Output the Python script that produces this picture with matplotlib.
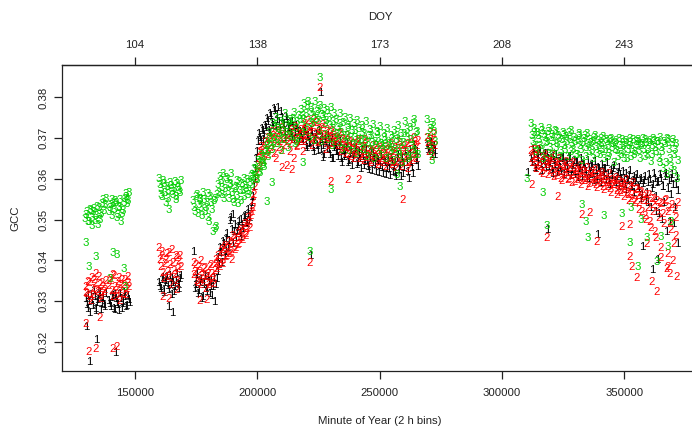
import numpy as np
import matplotlib
matplotlib.use("Agg")
import matplotlib.pyplot as plt

# ---------------- data ----------------
BIN_STEP = 720      # minutes between plotted bins of one pass
PASS2_OFFSET = 360  # second pass of bins, offset by 6 h
seg_starts = [129600, 139200, 159600, 173760, 269280, 311760]

# ---- pass 1 ----
gcc1_a = [0.3305, 0.3280, 0.3298, 0.3315, 0.3288, 0.3310, 0.3275, 0.3302, 0.3320, 0.3292, 0.3308, 0.3285]
gcc2_a = [0.3335, 0.3318, 0.3345, 0.3300, 0.3330, 0.3352, 0.3368, 0.3322, 0.3340, 0.3312, 0.3336, 0.3328]
gcc3_a = [0.3502, 0.3518, 0.3495, 0.3521, 0.3484, 0.3527, 0.3510, 0.3486, 0.3530, 0.3515, 0.3548, 0.3535]

gcc1_b = [0.3300, 0.3285, 0.3312, 0.3278, 0.3305, 0.3290, 0.3318, 0.3282, 0.3298, 0.3310, 0.3288, 0.3302]
gcc2_b = [0.3338, 0.3355, 0.3310, 0.3362, 0.3325, 0.3348, 0.3300, 0.3340, 0.3318, 0.3352, 0.3330, 0.3345]
gcc3_b = [0.3520, 0.3535, 0.3548, 0.3525, 0.3540, 0.3512, 0.3530, 0.3495, 0.3522, 0.3550, 0.3562, 0.3545]

gcc1_c = [0.3345, 0.3330, 0.3358, 0.3320, 0.3350, 0.3338, 0.3362, 0.3315, 0.3345, 0.3335, 0.3368, 0.3340, 0.3355]
gcc2_c = [0.3430, 0.3385, 0.3410, 0.3355, 0.3400, 0.3372, 0.3418, 0.3340, 0.3395, 0.3365, 0.3405, 0.3380, 0.3412]
gcc3_c = [0.3600, 0.3575, 0.3555, 0.3588, 0.3540, 0.3570, 0.3525, 0.3582, 0.3560, 0.3592, 0.3548, 0.3578, 0.3565]

gcc1_d = [0.3420, 0.3340, 0.3365, 0.3325, 0.3352, 0.3310, 0.3345, 0.3330, 0.3360, 0.3318, 0.3350, 0.3335, 0.3298, 0.3355,
          0.3405, 0.3430, 0.3395, 0.3440, 0.3420, 0.3465, 0.3448, 0.3505, 0.3512, 0.3470, 0.3455, 0.3482, 0.3465, 0.3500,
          0.3478, 0.3510, 0.3490, 0.3525, 0.3505, 0.3540,
          0.3580, 0.3625, 0.3665, 0.3710, 0.3690, 0.3718, 0.3705,
          0.3725, 0.3740, 0.3712, 0.3755, 0.3730, 0.3768, 0.3745, 0.3775, 0.3720, 0.3750, 0.3735, 0.3700, 0.3745, 0.3725,
          0.3710, 0.3740, 0.3695, 0.3730, 0.3715, 0.3705,
          0.3710, 0.3690, 0.3720, 0.3675, 0.3705, 0.3688, 0.3712, 0.3665, 0.3700, 0.3680, 0.3718, 0.3672, 0.3695, 0.3658,
          0.3690, 0.3705, 0.3670, 0.3688, 0.3650, 0.3682,
          0.3680, 0.3655, 0.3690, 0.3640, 0.3672, 0.3660, 0.3685, 0.3645, 0.3668, 0.3632,
          0.3660, 0.3675, 0.3640, 0.3665, 0.3625, 0.3655, 0.3642, 0.3670, 0.3630, 0.3650,
          0.3620, 0.3662, 0.3635, 0.3648, 0.3615, 0.3655, 0.3628, 0.3645, 0.3610, 0.3640,
          0.3625, 0.3652, 0.3618, 0.3638, 0.3605, 0.3660, 0.3630, 0.3648, 0.3612, 0.3665,
          0.3640, 0.3600, 0.3672, 0.3628, 0.3680, 0.3645, 0.3665]
gcc2_d = [0.3395, 0.3372, 0.3350, 0.3385, 0.3340, 0.3362, 0.3378, 0.3330, 0.3368, 0.3345, 0.3390, 0.3355, 0.3375, 0.3400,
          0.3410, 0.3385, 0.3425, 0.3400, 0.3435, 0.3412, 0.3445, 0.3420, 0.3402, 0.3455, 0.3430, 0.3465, 0.3440, 0.3475,
          0.3450, 0.3490, 0.3465, 0.3505, 0.3480, 0.3520,
          0.3545, 0.3580, 0.3615, 0.3650, 0.3630, 0.3668, 0.3645,
          0.3680, 0.3660, 0.3695, 0.3672, 0.3705, 0.3685, 0.3650, 0.3710, 0.3690, 0.3668, 0.3715, 0.3695, 0.3632, 0.3705,
          0.3685, 0.3720, 0.3650, 0.3700, 0.3678, 0.3712,
          0.3720, 0.3695, 0.3735, 0.3705, 0.3742, 0.3712, 0.3680, 0.3730, 0.3700, 0.3738, 0.3715, 0.3690, 0.3725, 0.3705,
          0.3670, 0.3720, 0.3695, 0.3712, 0.3685, 0.3705,
          0.3700, 0.3680, 0.3712, 0.3665, 0.3695, 0.3675, 0.3705, 0.3660, 0.3690, 0.3672,
          0.3650, 0.3685, 0.3668, 0.3695, 0.3655, 0.3678, 0.3645, 0.3688, 0.3660, 0.3672,
          0.3640, 0.3680, 0.3655, 0.3668, 0.3635, 0.3675, 0.3650, 0.3662, 0.3630, 0.3670,
          0.3648, 0.3685, 0.3640, 0.3665, 0.3628, 0.3690, 0.3652, 0.3675, 0.3638, 0.3682,
          0.3660, 0.3625, 0.3695, 0.3645, 0.3700, 0.3658, 0.3680]
gcc3_d = [0.3545, 0.3520, 0.3560, 0.3535, 0.3552, 0.3510, 0.3548, 0.3530, 0.3562, 0.3495, 0.3540, 0.3470, 0.3550, 0.3482,
          0.3585, 0.3605, 0.3560, 0.3612, 0.3575, 0.3598, 0.3550, 0.3588, 0.3565, 0.3540, 0.3580, 0.3558, 0.3592, 0.3545,
          0.3570, 0.3600, 0.3575, 0.3560, 0.3590, 0.3610,
          0.3605, 0.3622, 0.3598, 0.3640, 0.3615, 0.3655, 0.3630,
          0.3665, 0.3690, 0.3712, 0.3680, 0.3735, 0.3700, 0.3750, 0.3722, 0.3695, 0.3740, 0.3715, 0.3760, 0.3730, 0.3705,
          0.3745, 0.3725, 0.3762, 0.3690, 0.3740, 0.3755,
          0.3770, 0.3745, 0.3785, 0.3760, 0.3790, 0.3738, 0.3775, 0.3755, 0.3788, 0.3765, 0.3742, 0.3780, 0.3758, 0.3772,
          0.3735, 0.3768, 0.3750, 0.3775, 0.3740, 0.3760,
          0.3745, 0.3725, 0.3760, 0.3712, 0.3738, 0.3750, 0.3705, 0.3730, 0.3748, 0.3718,
          0.3735, 0.3700, 0.3742, 0.3722, 0.3695, 0.3730, 0.3710, 0.3740, 0.3688, 0.3720,
          0.3705, 0.3732, 0.3690, 0.3715, 0.3698, 0.3728, 0.3680, 0.3710, 0.3692, 0.3722,
          0.3685, 0.3705, 0.3675, 0.3718, 0.3695, 0.3730, 0.3665, 0.3710, 0.3688, 0.3740,
          0.3700, 0.3650, 0.3725, 0.3680, 0.3745, 0.3660, 0.3715]

gcc1_e = [0.3680, 0.3665, 0.3688, 0.3670, 0.3660]
gcc2_e = [0.3700, 0.3665, 0.3690, 0.3655, 0.3710]
gcc3_e = [0.3745, 0.3680, 0.3730, 0.3645, 0.3715]

gcc1_f = [0.3650, 0.3672, 0.3628, 0.3660, 0.3640, 0.3665, 0.3620, 0.3655, 0.3635, 0.3662,
          0.3630, 0.3650, 0.3612, 0.3645, 0.3660, 0.3625, 0.3648, 0.3618, 0.3652, 0.3630,
          0.3640, 0.3615, 0.3655, 0.3622, 0.3645, 0.3610, 0.3638, 0.3625, 0.3648, 0.3605,
          0.3635, 0.3618, 0.3645, 0.3600, 0.3630, 0.3612, 0.3642, 0.3598, 0.3628, 0.3615,
          0.3635, 0.3605, 0.3625, 0.3640, 0.3595, 0.3620, 0.3608, 0.3632, 0.3590, 0.3615,
          0.3628, 0.3600, 0.3618, 0.3585, 0.3612, 0.3595, 0.3620, 0.3580, 0.3605, 0.3590,
          0.3610, 0.3575, 0.3600, 0.3560, 0.3595, 0.3545, 0.3590, 0.3610, 0.3530, 0.3585,
          0.3600, 0.3520, 0.3592, 0.3610, 0.3500, 0.3580, 0.3605, 0.3470, 0.3595, 0.3560,
          0.3610, 0.3490, 0.3585, 0.3440]
gcc2_f = [0.3668, 0.3640, 0.3655, 0.3625, 0.3672, 0.3630, 0.3650, 0.3612, 0.3660, 0.3635,
          0.3645, 0.3620, 0.3658, 0.3605, 0.3640, 0.3625, 0.3648, 0.3600, 0.3635, 0.3615,
          0.3642, 0.3598, 0.3628, 0.3610, 0.3638, 0.3592, 0.3620, 0.3605, 0.3632, 0.3595,
          0.3618, 0.3600, 0.3628, 0.3588, 0.3612, 0.3598, 0.3622, 0.3585, 0.3608, 0.3595,
          0.3615, 0.3580, 0.3605, 0.3590, 0.3612, 0.3575, 0.3598, 0.3585, 0.3602, 0.3570,
          0.3595, 0.3565, 0.3588, 0.3575, 0.3598, 0.3560, 0.3582, 0.3550, 0.3590, 0.3545,
          0.3575, 0.3540, 0.3565, 0.3520, 0.3555, 0.3500, 0.3545, 0.3560, 0.3480, 0.3535,
          0.3550, 0.3455, 0.3528, 0.3540, 0.3405, 0.3515, 0.3545, 0.3380, 0.3520, 0.3490,
          0.3535, 0.3440, 0.3505, 0.3360]
gcc3_f = [0.3735, 0.3690, 0.3712, 0.3665, 0.3705, 0.3682, 0.3718, 0.3650, 0.3700, 0.3690,
          0.3722, 0.3675, 0.3708, 0.3660, 0.3715, 0.3685, 0.3698, 0.3668, 0.3712, 0.3680,
          0.3702, 0.3655, 0.3695, 0.3718, 0.3672, 0.3690, 0.3660, 0.3705, 0.3680, 0.3645,
          0.3698, 0.3675, 0.3710, 0.3665, 0.3688, 0.3650, 0.3700, 0.3678, 0.3692, 0.3660,
          0.3685, 0.3702, 0.3670, 0.3690, 0.3655, 0.3695, 0.3675, 0.3640, 0.3688, 0.3668,
          0.3698, 0.3660, 0.3682, 0.3648, 0.3692, 0.3670, 0.3688, 0.3655, 0.3695, 0.3665,
          0.3680, 0.3690, 0.3650, 0.3685, 0.3672, 0.3695, 0.3660, 0.3688, 0.3642, 0.3680,
          0.3692, 0.3665, 0.3690, 0.3640, 0.3675, 0.3625, 0.3685, 0.3610, 0.3695, 0.3650,
          0.3688, 0.3620, 0.3672, 0.3600]

# ---- pass 2 (bins offset by PASS2_OFFSET) ----
gcc1_a2 = [0.3290, 0.3312, 0.3272, 0.3300, 0.3325, 0.3282, 0.3296, 0.3315, 0.3278, 0.3305, 0.3290, 0.3318]
gcc2_a2 = [0.3320, 0.3348, 0.3310, 0.3358, 0.3315, 0.3342, 0.3328, 0.3360, 0.3305, 0.3345, 0.3322, 0.3350]
gcc3_a2 = [0.3512, 0.3495, 0.3525, 0.3505, 0.3520, 0.3498, 0.3532, 0.3512, 0.3500, 0.3538, 0.3522, 0.3552]

gcc1_b2 = [0.3292, 0.3308, 0.3280, 0.3315, 0.3295, 0.3275, 0.3305, 0.3292, 0.3320, 0.3285, 0.3312, 0.3295]
gcc2_b2 = [0.3350, 0.3325, 0.3365, 0.3335, 0.3310, 0.3358, 0.3328, 0.3352, 0.3340, 0.3315, 0.3360, 0.3335]
gcc3_b2 = [0.3528, 0.3510, 0.3538, 0.3545, 0.3505, 0.3532, 0.3548, 0.3515, 0.3540, 0.3555, 0.3538, 0.3565]

gcc1_c2 = [0.3335, 0.3352, 0.3325, 0.3345, 0.3360, 0.3328, 0.3340, 0.3355, 0.3322, 0.3350, 0.3342, 0.3330, 0.3362]
gcc2_c2 = [0.3400, 0.3420, 0.3370, 0.3392, 0.3415, 0.3360, 0.3388, 0.3425, 0.3375, 0.3410, 0.3350, 0.3398, 0.3385]
gcc3_c2 = [0.3585, 0.3560, 0.3595, 0.3565, 0.3580, 0.3550, 0.3590, 0.3568, 0.3575, 0.3555, 0.3588, 0.3570, 0.3595]

gcc1_d2 = [0.3330, 0.3355, 0.3318, 0.3345, 0.3305, 0.3340, 0.3362, 0.3322, 0.3348, 0.3335, 0.3312, 0.3358, 0.3340, 0.3372,
           0.3390, 0.3418, 0.3445, 0.3410, 0.3452, 0.3430, 0.3498, 0.3475, 0.3440, 0.3488, 0.3470, 0.3495, 0.3458, 0.3485,
           0.3505, 0.3492, 0.3515, 0.3498, 0.3530, 0.3555,
           0.3600, 0.3648, 0.3690, 0.3700, 0.3722, 0.3695, 0.3730,
           0.3748, 0.3718, 0.3760, 0.3738, 0.3772, 0.3728, 0.3758, 0.3740, 0.3765, 0.3732, 0.3715, 0.3752, 0.3722, 0.3738,
           0.3700, 0.3728, 0.3712, 0.3722, 0.3690, 0.3715,
           0.3695, 0.3715, 0.3680, 0.3702, 0.3685, 0.3718, 0.3675, 0.3692, 0.3708, 0.3668, 0.3690, 0.3702, 0.3680, 0.3695,
           0.3672, 0.3685, 0.3660, 0.3698, 0.3675, 0.3665,
           0.3665, 0.3678, 0.3650, 0.3668, 0.3655, 0.3675, 0.3638, 0.3662, 0.3680, 0.3648,
           0.3670, 0.3635, 0.3658, 0.3648, 0.3672, 0.3632, 0.3660, 0.3645, 0.3622, 0.3665,
           0.3640, 0.3652, 0.3618, 0.3645, 0.3632, 0.3660, 0.3612, 0.3638, 0.3625, 0.3650,
           0.3608, 0.3642, 0.3630, 0.3615, 0.3648, 0.3622, 0.3605, 0.3640, 0.3628, 0.3655,
           0.3618, 0.3660, 0.3638, 0.3612, 0.3670, 0.3650, 0.3630]
gcc2_d2 = [0.3365, 0.3388, 0.3345, 0.3372, 0.3398, 0.3352, 0.3382, 0.3360, 0.3340, 0.3385, 0.3368, 0.3342, 0.3392, 0.3378,
           0.3395, 0.3420, 0.3392, 0.3430, 0.3408, 0.3428, 0.3415, 0.3440, 0.3460, 0.3425, 0.3448, 0.3438, 0.3470, 0.3455,
           0.3482, 0.3460, 0.3478, 0.3495, 0.3510, 0.3530,
           0.3560, 0.3598, 0.3632, 0.3665, 0.3678, 0.3655, 0.3690,
           0.3668, 0.3700, 0.3682, 0.3715, 0.3662, 0.3695, 0.3718, 0.3675, 0.3700, 0.3725, 0.3680, 0.3705, 0.3690, 0.3665,
           0.3712, 0.3695, 0.3728, 0.3682, 0.3708, 0.3690,
           0.3708, 0.3730, 0.3690, 0.3718, 0.3700, 0.3725, 0.3695, 0.3745, 0.3710, 0.3688, 0.3722, 0.3702, 0.3732, 0.3692,
           0.3715, 0.3700, 0.3682, 0.3718, 0.3698, 0.3690,
           0.3690, 0.3710, 0.3672, 0.3698, 0.3682, 0.3662, 0.3692, 0.3678, 0.3655, 0.3685,
           0.3670, 0.3660, 0.3690, 0.3648, 0.3675, 0.3665, 0.3695, 0.3652, 0.3670, 0.3645,
           0.3665, 0.3658, 0.3680, 0.3642, 0.3660, 0.3672, 0.3638, 0.3658, 0.3678, 0.3645,
           0.3668, 0.3635, 0.3662, 0.3675, 0.3642, 0.3660, 0.3680, 0.3630, 0.3668, 0.3650,
           0.3685, 0.3640, 0.3672, 0.3662, 0.3690, 0.3648, 0.3692]
gcc3_d2 = [0.3528, 0.3555, 0.3515, 0.3548, 0.3530, 0.3565, 0.3520, 0.3542, 0.3505, 0.3555, 0.3525, 0.3545, 0.3478, 0.3560,
           0.3565, 0.3595, 0.3578, 0.3550, 0.3602, 0.3568, 0.3585, 0.3612, 0.3548, 0.3575, 0.3595, 0.3538, 0.3570, 0.3588,
           0.3555, 0.3582, 0.3598, 0.3568, 0.3605, 0.3585,
           0.3625, 0.3600, 0.3645, 0.3618, 0.3660, 0.3638, 0.3672,
           0.3680, 0.3655, 0.3700, 0.3672, 0.3690, 0.3728, 0.3685, 0.3710, 0.3668, 0.3735, 0.3695, 0.3712, 0.3675, 0.3740,
           0.3702, 0.3748, 0.3685, 0.3722, 0.3698, 0.3745,
           0.3712, 0.3755, 0.3725, 0.3778, 0.3700, 0.3762, 0.3735, 0.3692, 0.3748, 0.3770, 0.3715, 0.3690, 0.3752, 0.3708,
           0.3742, 0.3695, 0.3730, 0.3680, 0.3722, 0.3700,
           0.3710, 0.3688, 0.3735, 0.3672, 0.3705, 0.3685, 0.3725, 0.3668, 0.3700, 0.3680,
           0.3718, 0.3662, 0.3695, 0.3675, 0.3712, 0.3670, 0.3690, 0.3655, 0.3705, 0.3668,
           0.3688, 0.3650, 0.3680, 0.3712, 0.3660, 0.3685, 0.3670, 0.3700, 0.3648, 0.3682,
           0.3665, 0.3698, 0.3645, 0.3672, 0.3705, 0.3658, 0.3688, 0.3640, 0.3710, 0.3665,
           0.3720, 0.3655, 0.3695, 0.3735, 0.3668, 0.3712, 0.3660]

gcc1_e2 = [0.3672, 0.3690, 0.3658, 0.3682, 0.3668]
gcc2_e2 = [0.3688, 0.3712, 0.3675, 0.3698, 0.3680]
gcc3_e2 = [0.3700, 0.3722, 0.3665, 0.3738, 0.3690]

gcc1_f2 = [0.3640, 0.3660, 0.3625, 0.3652, 0.3670, 0.3635, 0.3645, 0.3662, 0.3628, 0.3650,
           0.3640, 0.3622, 0.3655, 0.3635, 0.3615, 0.3642, 0.3628, 0.3650, 0.3610, 0.3638,
           0.3625, 0.3648, 0.3608, 0.3632, 0.3618, 0.3640, 0.3602, 0.3630, 0.3612, 0.3635,
           0.3622, 0.3600, 0.3628, 0.3610, 0.3635, 0.3595, 0.3620, 0.3605, 0.3625, 0.3590,
           0.3615, 0.3625, 0.3598, 0.3612, 0.3585, 0.3610, 0.3625, 0.3595, 0.3605, 0.3580,
           0.3610, 0.3588, 0.3600, 0.3572, 0.3598, 0.3608, 0.3582, 0.3595, 0.3565, 0.3600,
           0.3580, 0.3595, 0.3550, 0.3588, 0.3605, 0.3565, 0.3540, 0.3598, 0.3575, 0.3612,
           0.3555, 0.3590, 0.3515, 0.3600, 0.3580, 0.3540, 0.3612, 0.3575, 0.3495, 0.3600,
           0.3585, 0.3530, 0.3605, 0.3570]
gcc2_f2 = [0.3650, 0.3672, 0.3632, 0.3660, 0.3640, 0.3618, 0.3655, 0.3628, 0.3645, 0.3610,
           0.3638, 0.3650, 0.3615, 0.3632, 0.3608, 0.3640, 0.3620, 0.3595, 0.3630, 0.3608,
           0.3622, 0.3600, 0.3635, 0.3590, 0.3615, 0.3625, 0.3598, 0.3612, 0.3585, 0.3620,
           0.3595, 0.3610, 0.3580, 0.3605, 0.3618, 0.3590, 0.3600, 0.3578, 0.3610, 0.3588,
           0.3600, 0.3572, 0.3595, 0.3580, 0.3590, 0.3565, 0.3585, 0.3595, 0.3560, 0.3582,
           0.3570, 0.3590, 0.3555, 0.3580, 0.3565, 0.3545, 0.3578, 0.3560, 0.3540, 0.3572,
           0.3558, 0.3525, 0.3568, 0.3545, 0.3510, 0.3560, 0.3530, 0.3495, 0.3552, 0.3520,
           0.3470, 0.3545, 0.3505, 0.3430, 0.3538, 0.3490, 0.3548, 0.3415, 0.3530, 0.3475,
           0.3398, 0.3525, 0.3460, 0.3540]
gcc3_f2 = [0.3705, 0.3722, 0.3680, 0.3712, 0.3695, 0.3725, 0.3670, 0.3708, 0.3688, 0.3715,
           0.3662, 0.3700, 0.3690, 0.3718, 0.3675, 0.3705, 0.3655, 0.3695, 0.3708, 0.3672,
           0.3690, 0.3712, 0.3665, 0.3685, 0.3700, 0.3658, 0.3692, 0.3710, 0.3670, 0.3688,
           0.3705, 0.3655, 0.3685, 0.3695, 0.3668, 0.3690, 0.3705, 0.3662, 0.3682, 0.3698,
           0.3672, 0.3650, 0.3695, 0.3680, 0.3662, 0.3698, 0.3685, 0.3670, 0.3692, 0.3655,
           0.3682, 0.3695, 0.3668, 0.3688, 0.3650, 0.3680, 0.3698, 0.3672, 0.3660, 0.3690,
           0.3695, 0.3668, 0.3682, 0.3698, 0.3655, 0.3688, 0.3672, 0.3692, 0.3660, 0.3698,
           0.3675, 0.3690, 0.3650, 0.3700, 0.3665, 0.3690, 0.3640, 0.3698, 0.3672, 0.3630,
           0.3695, 0.3660, 0.3685, 0.3645]

# isolated bins (minute of year, value)
extra1_min = [129950, 131200, 134060, 141820, 163500, 165100, 221540, 225630, 226450, 230130,
              310250, 318430, 338860, 357300, 361390, 363420]
extra1_val = [0.3236, 0.3152, 0.3204, 0.3172, 0.3285, 0.3270, 0.3410, 0.3810, 0.3651, 0.3648,
              0.3614, 0.3476, 0.3462, 0.3432, 0.3376, 0.3400]
extra2_min = [129950, 131200, 134060, 135700, 141000, 142640, 161450, 163900, 167170, 176570,
              179430, 210090, 214180, 218680, 221540, 225630, 230130, 237080, 241570, 259560,
              312290, 318430, 322920, 332730, 336000, 338860, 349120, 352390, 352390, 353200,
              355250, 359340, 361390, 363420, 367930, 368700]
extra2_val = [0.3245, 0.3176, 0.3182, 0.3260, 0.3182, 0.3187, 0.3310, 0.3305, 0.3327, 0.3300,
              0.3304, 0.3628, 0.3621, 0.3666, 0.3393, 0.3823, 0.3592, 0.3597, 0.3597, 0.3548,
              0.3584, 0.3454, 0.3555, 0.3511, 0.3516, 0.3445, 0.3481, 0.3486, 0.3408, 0.3383,
              0.3356, 0.3440, 0.3347, 0.3322, 0.3383, 0.3368]
extra3_min = [129950, 131200, 134060, 139780, 141000, 142640, 145500, 145910, 202330, 203960,
              206000, 218680, 221540, 225630, 230130, 257110, 258330, 310250, 316790, 318430,
              332730, 334400, 335220, 341760, 349120, 352800, 352390, 355660, 356900, 359340,
              363420, 365070, 367930, 369150]
extra3_val = [0.3442, 0.3383, 0.3408, 0.3355, 0.3418, 0.3413, 0.3378, 0.3334, 0.3634, 0.3543,
              0.3590, 0.3638, 0.3420, 0.3848, 0.3572, 0.3609, 0.3580, 0.3600, 0.3565, 0.3484,
              0.3536, 0.3494, 0.3454, 0.3510, 0.3513, 0.3530, 0.3442, 0.3383, 0.3500, 0.3455,
              0.3396, 0.3457, 0.3432, 0.3494]

x_ticks = [150000, 200000, 250000, 300000, 350000]
x_tick_labels = ["150000", "200000", "250000", "300000", "350000"]
doy_tick_labels = ["104", "138", "173", "208", "243"]
y_ticks = [0.32, 0.33, 0.34, 0.35, 0.36, 0.37, 0.38]
y_tick_labels = ["0.32", "0.33", "0.34", "0.35", "0.36", "0.37", "0.38"]
series_chars = ["1", "2", "3"]
series_colors = ["black", "#FF0000", "#00CD00"]

# ---------------- plot ----------------
FONT = "Liberation Sans"
FS = 8.2
AXC = "#222222"
plt.rcParams["font.family"] = [FONT, "DejaVu Sans"]

W, H = 692, 428
fig = plt.figure(figsize=(W / 100, H / 100), dpi=100)
left_px, right_px, top_px, bot_px = 62, 696.6, 65.3, 371.3
ax = fig.add_axes([left_px / W, (H - bot_px) / H, (right_px - left_px) / W, (bot_px - top_px) / H])
ax.set_xlim(120155, 379600)
ax.set_ylim(0.3128, 0.3879)


def series_points(segs1, segs2, extra_min, extra_val):
    xs, ys = [], []
    for start, vals in zip(seg_starts, segs1):
        xs.extend(start + BIN_STEP * np.arange(len(vals)))
        ys.extend(vals)
    for start, vals in zip(seg_starts, segs2):
        xs.extend(start + PASS2_OFFSET + BIN_STEP * np.arange(len(vals)))
        ys.extend(vals)
    xs.extend(extra_min)
    ys.extend(extra_val)
    return xs, ys


all_series = [
    series_points([gcc1_a, gcc1_b, gcc1_c, gcc1_d, gcc1_e, gcc1_f],
                  [gcc1_a2, gcc1_b2, gcc1_c2, gcc1_d2, gcc1_e2, gcc1_f2], extra1_min, extra1_val),
    series_points([gcc2_a, gcc2_b, gcc2_c, gcc2_d, gcc2_e, gcc2_f],
                  [gcc2_a2, gcc2_b2, gcc2_c2, gcc2_d2, gcc2_e2, gcc2_f2], extra2_min, extra2_val),
    series_points([gcc3_a, gcc3_b, gcc3_c, gcc3_d, gcc3_e, gcc3_f],
                  [gcc3_a2, gcc3_b2, gcc3_c2, gcc3_d2, gcc3_e2, gcc3_f2], extra3_min, extra3_val),
]

for (xs, ys), ch, col in zip(all_series, series_chars, series_colors):
    for x, y in zip(xs, ys):
        ax.text(x, y, ch, color=col, fontsize=FS, ha="center", va="center",
                clip_on=True)

for sp in ax.spines.values():
    sp.set_linewidth(0.9)
    sp.set_color(AXC)

ax.set_xticks(x_ticks)
ax.set_xticklabels(x_tick_labels)
ax.set_yticks(y_ticks)
ax.set_yticklabels(y_tick_labels, rotation=90, va="center")
ax.tick_params(direction="out", length=6, width=0.9, color=AXC,
               labelsize=FS, labelcolor=AXC)
ax.tick_params(axis="x", pad=6)
ax.tick_params(axis="y", pad=3.5)

ax.set_xlabel("Minute of Year (2 h bins)", fontsize=FS, color=AXC, va="center")
ax.xaxis.set_label_coords(0.5, -(420.7 - bot_px) / (bot_px - top_px))
ax.set_ylabel("GCC", fontsize=FS, color=AXC, va="center")
ax.yaxis.set_label_coords(-(left_px - 15) / (right_px - left_px), 0.5)

sec = ax.secondary_xaxis("top")
sec.set_xticks(x_ticks)
sec.set_xticklabels(doy_tick_labels)
sec.tick_params(direction="out", length=6, width=0.9, color=AXC,
                labelsize=FS, labelcolor=AXC, pad=5)
sec.spines["top"].set_linewidth(0.9)
sec.spines["top"].set_color(AXC)
fig.text(380 / W, 1 - 17 / H, "DOY", fontsize=FS, color=AXC, ha="center", va="center")

fig.savefig("out.png", dpi=100)
